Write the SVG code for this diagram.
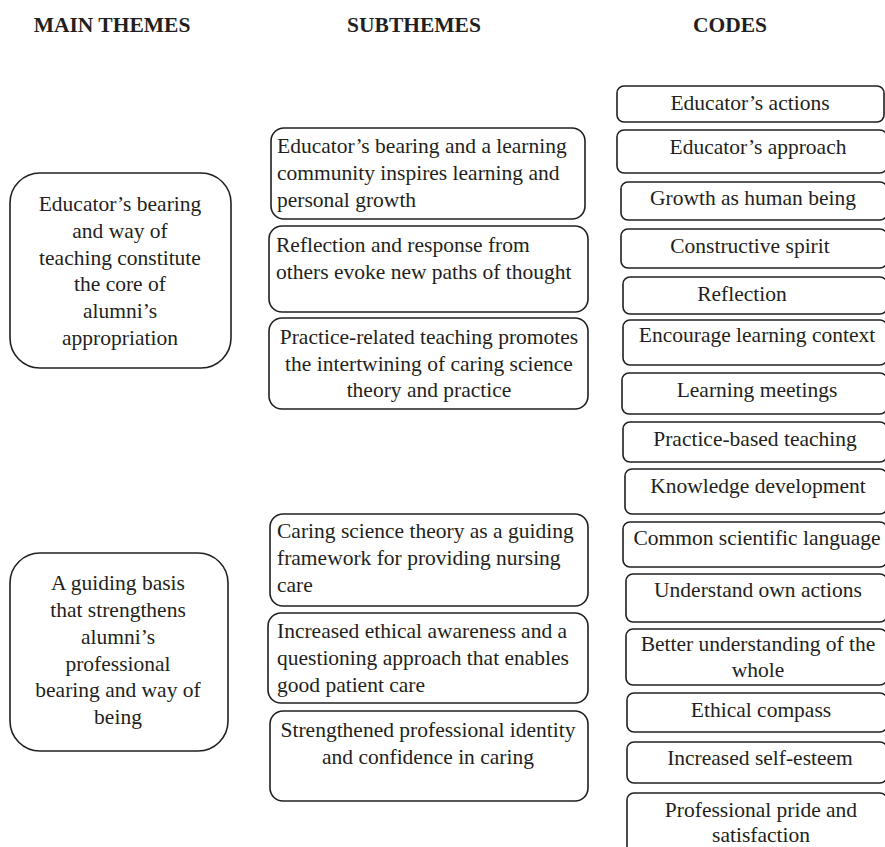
<svg xmlns="http://www.w3.org/2000/svg" width="885" height="847" viewBox="0 0 885 847">
<style>
  .bg{fill:#ffffff}
  .box{fill:#ffffff;stroke:#231f20;stroke-width:1.6}
  .t{font-family:"Liberation Serif","Times New Roman",serif;font-size:21.5px;fill:#231f20}
  .c{text-anchor:middle}
  .h{font-family:"Liberation Serif","Times New Roman",serif;font-size:21.5px;font-weight:bold;fill:#231f20;text-anchor:middle}
</style>
<rect class="bg" x="0" y="0" width="885" height="847"/>
<g id="headers">
  <text class="h" x="112" y="32">MAIN THEMES</text>
  <text class="h" x="414" y="32">SUBTHEMES</text>
  <text class="h" x="730" y="32">CODES</text>
</g>
<g id="main1">
  <rect class="box" x="10" y="173" width="221" height="195" rx="30" ry="30"/>
  <text class="t c" x="120"><tspan x="120" y="211">Educator’s bearing</tspan><tspan x="120" y="238">and way of</tspan><tspan x="120" y="265">teaching constitute</tspan><tspan x="120" y="291">the core of</tspan><tspan x="120" y="318">alumni’s</tspan><tspan x="120" y="345">appropriation</tspan></text>
</g>
<g id="main2">
  <rect class="box" x="10" y="553" width="218" height="198" rx="30" ry="30"/>
  <text class="t c" x="118"><tspan x="118" y="590">A guiding basis</tspan><tspan x="118" y="617">that strengthens</tspan><tspan x="118" y="644">alumni’s</tspan><tspan x="118" y="671">professional</tspan><tspan x="118" y="697">bearing and way of</tspan><tspan x="118" y="724">being</tspan></text>
</g>
<g id="sub1">
  <rect class="box" x="271" y="128" width="314" height="91" rx="13" ry="13"/>
  <text class="t" x="277"><tspan x="277" y="153">Educator’s bearing and a learning</tspan><tspan x="277" y="180">community inspires learning and</tspan><tspan x="277" y="207">personal growth</tspan></text>
</g>
<g id="sub2">
  <rect class="box" x="269" y="226" width="319" height="86" rx="13" ry="13"/>
  <text class="t" x="276"><tspan x="276" y="252">Reflection and response from</tspan><tspan x="276" y="279">others evoke new paths of thought</tspan></text>
</g>
<g id="sub3">
  <rect class="box" x="269" y="318" width="319" height="91" rx="13" ry="13"/>
  <text class="t c" x="429"><tspan x="429" y="344">Practice-related teaching promotes</tspan><tspan x="429" y="371">the intertwining of caring science</tspan><tspan x="429" y="397">theory and practice</tspan></text>
</g>
<g id="sub4">
  <rect class="box" x="270" y="514" width="318" height="92" rx="13" ry="13"/>
  <text class="t" x="277"><tspan x="277" y="538">Caring science theory as a guiding</tspan><tspan x="277" y="565">framework for providing nursing</tspan><tspan x="277" y="592">care</tspan></text>
</g>
<g id="sub5">
  <rect class="box" x="268" y="613" width="320" height="90" rx="13" ry="13"/>
  <text class="t" x="277"><tspan x="277" y="638">Increased ethical awareness and a</tspan><tspan x="277" y="665">questioning approach that enables</tspan><tspan x="277" y="692">good patient care</tspan></text>
</g>
<g id="sub6">
  <rect class="box" x="270" y="711" width="318" height="90" rx="13" ry="13"/>
  <text class="t c" x="428"><tspan x="428" y="737">Strengthened professional identity</tspan><tspan x="428" y="764">and confidence in caring</tspan></text>
</g>
<g id="code1"><rect class="box" x="617" y="86" width="267" height="36" rx="7" ry="7"/><text class="t c" x="750" y="110">Educator’s actions</text></g>
<g id="code2"><rect class="box" x="617" y="130" width="270" height="43" rx="7" ry="7"/><text class="t c" x="758" y="154">Educator’s approach</text></g>
<g id="code3"><rect class="box" x="621" y="182" width="266" height="38" rx="7" ry="7"/><text class="t c" x="753" y="205">Growth as human being</text></g>
<g id="code4"><rect class="box" x="621" y="229" width="266" height="39" rx="7" ry="7"/><text class="t c" x="750" y="253">Constructive spirit</text></g>
<g id="code5"><rect class="box" x="623" y="277" width="264" height="37" rx="7" ry="7"/><text class="t c" x="742" y="301">Reflection</text></g>
<g id="code6"><rect class="box" x="623" y="320" width="264" height="45" rx="7" ry="7"/><text class="t c" x="757" y="342">Encourage learning context</text></g>
<g id="code7"><rect class="box" x="622" y="373" width="265" height="41" rx="7" ry="7"/><text class="t c" x="757" y="397">Learning meetings</text></g>
<g id="code8"><rect class="box" x="623" y="422" width="264" height="40" rx="7" ry="7"/><text class="t c" x="755" y="446">Practice-based teaching</text></g>
<g id="code9"><rect class="box" x="625" y="469" width="262" height="45" rx="7" ry="7"/><text class="t c" x="758" y="493">Knowledge development</text></g>
<g id="code10"><rect class="box" x="623" y="522" width="264" height="45" rx="7" ry="7"/><text class="t c" x="757" y="545">Common scientific language</text></g>
<g id="code11"><rect class="box" x="626" y="574" width="261" height="48" rx="7" ry="7"/><text class="t c" x="758" y="597">Understand own actions</text></g>
<g id="code12"><rect class="box" x="626" y="629" width="261" height="56" rx="7" ry="7"/><text class="t c" x="758"><tspan x="758" y="651">Better understanding of the</tspan><tspan x="758" y="677">whole</tspan></text></g>
<g id="code13"><rect class="box" x="627" y="693" width="260" height="39" rx="7" ry="7"/><text class="t c" x="761" y="717">Ethical compass</text></g>
<g id="code14"><rect class="box" x="627" y="742" width="260" height="41" rx="7" ry="7"/><text class="t c" x="760" y="765">Increased self-esteem</text></g>
<g id="code15"><rect class="box" x="627" y="793" width="260" height="70" rx="7" ry="7"/><text class="t c" x="761"><tspan x="761" y="817">Professional pride and</tspan><tspan x="761" y="842">satisfaction</tspan></text></g>
<g id="connectors"></g>
</svg>
